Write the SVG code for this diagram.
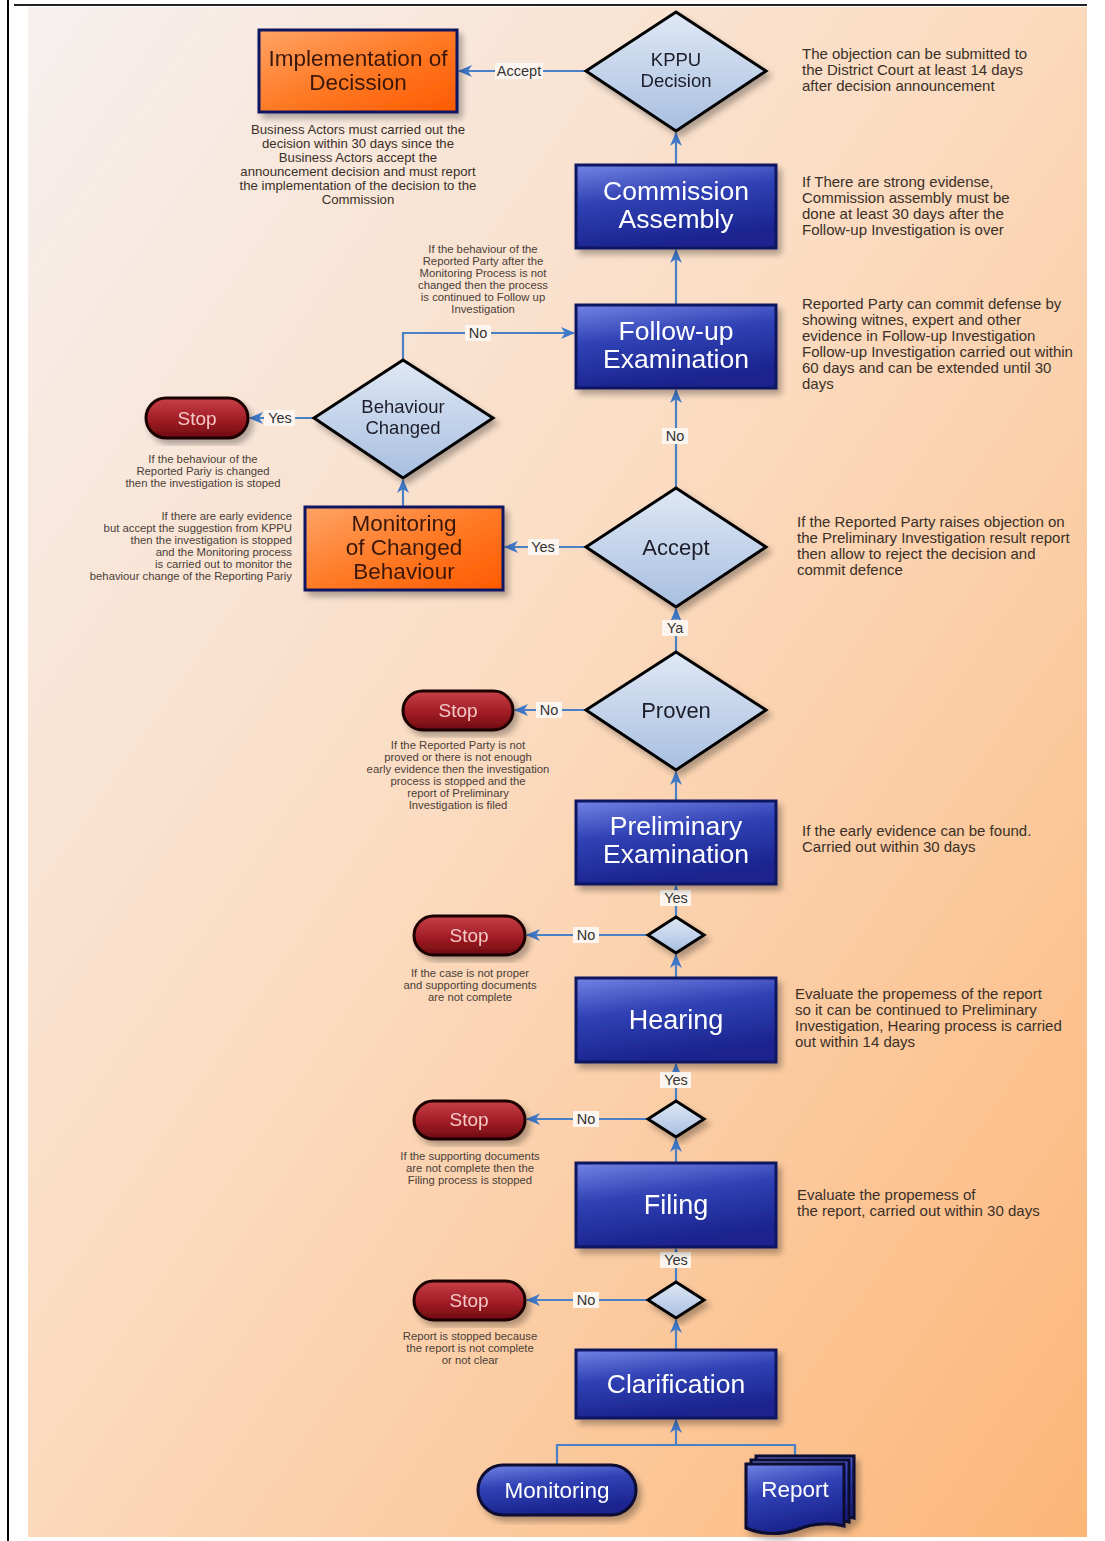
<svg xmlns="http://www.w3.org/2000/svg" width="1105" height="1541" viewBox="0 0 1105 1541">
  <defs>
    <linearGradient id="bg" x1="0" y1="0" x2="1" y2="1">
      <stop offset="0" stop-color="#f6f0ef"/>
      <stop offset="0.45" stop-color="#fbdcc2"/>
      <stop offset="1" stop-color="#fcb678"/>
    </linearGradient>
    <linearGradient id="blueFill" x1="0" y1="0" x2="0.3" y2="1">
      <stop offset="0" stop-color="#7283e4"/>
      <stop offset="0.45" stop-color="#3041b4"/>
      <stop offset="1" stop-color="#1a238e"/>
    </linearGradient>
    <linearGradient id="orangeFill" x1="0" y1="0" x2="1" y2="1">
      <stop offset="0" stop-color="#ffa466"/>
      <stop offset="0.5" stop-color="#ff7a26"/>
      <stop offset="1" stop-color="#ff5a00"/>
    </linearGradient>
    <linearGradient id="diaFill" x1="0" y1="0" x2="0" y2="1">
      <stop offset="0" stop-color="#dfe8f5"/>
      <stop offset="1" stop-color="#a8bfe0"/>
    </linearGradient>
    <linearGradient id="stopFill" x1="0" y1="0" x2="0" y2="1">
      <stop offset="0" stop-color="#c84048"/>
      <stop offset="0.6" stop-color="#9c1a22"/>
      <stop offset="1" stop-color="#6e0c12"/>
    </linearGradient>
    <filter id="shadow" x="-10%" y="-10%" width="130%" height="130%">
      <feGaussianBlur in="SourceAlpha" stdDeviation="3"/>
      <feOffset dx="4" dy="5" result="b"/>
      <feComponentTransfer><feFuncA type="linear" slope="0.3"/></feComponentTransfer>
      <feMerge><feMergeNode/><feMergeNode in="SourceGraphic"/></feMerge>
    </filter>
    <marker id="arrow" markerWidth="14" markerHeight="12" refX="13" refY="6" orient="auto" markerUnits="userSpaceOnUse">
      <path d="M0,0 L14,6 L0,12 L4,6 Z" fill="#3f78c8"/>
    </marker>
  </defs>
  <style>
    .box { stroke: #0e1460; stroke-width: 3; }
    .blue { fill: url(#blueFill); }
    .orange { fill: url(#orangeFill); }
    .dia { fill: url(#diaFill); stroke: #000; stroke-width: 3; }
    .stop { fill: url(#stopFill); stroke: #1a0000; stroke-width: 3; }
    .pill { fill: url(#blueFill); stroke: #0a0a30; stroke-width: 3; }
    .wt { font-family: "Liberation Sans", Arial, sans-serif; fill: #ffffff; text-anchor: middle; font-size: 26.5px; }
    .wt.big { font-size: 27px; }
    .wt.sm { font-size: 22.5px; }
    .ot { font-family: "Liberation Sans", Arial, sans-serif; fill: #3a1808; text-anchor: middle; font-size: 22.5px; }
    .dt { font-family: "Liberation Sans", Arial, sans-serif; fill: #1e1e2a; text-anchor: middle; font-size: 18.5px; }
    .dt.big { font-size: 22px; }
    .st { font-family: "Liberation Sans", Arial, sans-serif; fill: #f4c8c8; text-anchor: middle; font-size: 19px; }
    .note { font-family: "Liberation Sans", Arial, sans-serif; fill: #3a3028; font-size: 15px; }
    .small { font-family: "Liberation Sans", Arial, sans-serif; fill: #4a4038; font-size: 11.3px; text-anchor: middle; }
    .smallr { font-family: "Liberation Sans", Arial, sans-serif; fill: #4a4038; font-size: 11.3px; text-anchor: end; }
    .mid { font-family: "Liberation Sans", Arial, sans-serif; fill: #3a3028; font-size: 13.2px; text-anchor: middle; }
    .line { fill: none; stroke: #4a80c6; stroke-width: 2.2; }
    .lbl { font-family: "Liberation Sans", Arial, sans-serif; fill: #333; font-size: 14.5px; text-anchor: middle; }
    .lblbg { fill: #fdf6f0; }
  </style>

  <!-- page frame and background -->
  <rect x="0" y="0" width="1105" height="1541" fill="#ffffff"/>
  <rect x="28" y="7" width="1059" height="1530" fill="url(#bg)"/>
  <line x1="8" y1="0" x2="8" y2="1541" stroke="#000" stroke-width="2"/>
  <line x1="14" y1="5" x2="1087" y2="5" stroke="#222" stroke-width="2"/>

  <!-- connectors -->
  <g id="connectors">
    <line class="line" x1="586" y1="71" x2="459" y2="71" marker-end="url(#arrow)"/>
    <line class="line" x1="676" y1="165" x2="676" y2="133" marker-end="url(#arrow)"/>
    <line class="line" x1="676" y1="305" x2="676" y2="250" marker-end="url(#arrow)"/>
    <polyline class="line" points="403,360 403,333 574,333" marker-end="url(#arrow)"/>
    <line class="line" x1="676" y1="488" x2="676" y2="390" marker-end="url(#arrow)"/>
    <line class="line" x1="314" y1="418" x2="250" y2="418" marker-end="url(#arrow)"/>
    <line class="line" x1="403" y1="507" x2="403" y2="480" marker-end="url(#arrow)"/>
    <line class="line" x1="586" y1="547" x2="505" y2="547" marker-end="url(#arrow)"/>
    <line class="line" x1="676" y1="652" x2="676" y2="609" marker-end="url(#arrow)"/>
    <line class="line" x1="586" y1="710" x2="515" y2="710" marker-end="url(#arrow)"/>
    <line class="line" x1="676" y1="801" x2="676" y2="772" marker-end="url(#arrow)"/>
    <line class="line" x1="676" y1="917" x2="676" y2="886" marker-end="url(#arrow)"/>
    <line class="line" x1="648" y1="935" x2="527" y2="935" marker-end="url(#arrow)"/>
    <line class="line" x1="676" y1="978" x2="676" y2="955" marker-end="url(#arrow)"/>
    <line class="line" x1="676" y1="1101" x2="676" y2="1064" marker-end="url(#arrow)"/>
    <line class="line" x1="648" y1="1119" x2="527" y2="1119" marker-end="url(#arrow)"/>
    <line class="line" x1="676" y1="1163" x2="676" y2="1139" marker-end="url(#arrow)"/>
    <line class="line" x1="676" y1="1282" x2="676" y2="1249" marker-end="url(#arrow)"/>
    <line class="line" x1="648" y1="1300" x2="527" y2="1300" marker-end="url(#arrow)"/>
    <line class="line" x1="676" y1="1350" x2="676" y2="1320" marker-end="url(#arrow)"/>
    <polyline class="line" points="557,1465 557,1445 795,1445 795,1456"/>
    <line class="line" x1="676" y1="1445" x2="676" y2="1420" marker-end="url(#arrow)"/>

    <!-- connector labels -->
    <rect class="lblbg" x="495" y="63" width="48" height="16"/>
    <text class="lbl" x="519" y="76">Accept</text>
    <rect class="lblbg" x="465" y="325" width="26" height="16"/>
    <text class="lbl" x="478" y="338">No</text>
    <rect class="lblbg" x="662" y="428" width="26" height="16"/>
    <text class="lbl" x="675" y="441">No</text>
    <rect class="lblbg" x="264" y="410" width="31" height="16"/>
    <text class="lbl" x="280" y="423">Yes</text>
    <rect class="lblbg" x="528" y="539" width="31" height="16"/>
    <text class="lbl" x="543" y="552">Yes</text>
    <rect class="lblbg" x="662" y="620" width="26" height="16"/>
    <text class="lbl" x="675" y="633">Ya</text>
    <rect class="lblbg" x="536" y="702" width="26" height="16"/>
    <text class="lbl" x="549" y="715">No</text>
    <rect class="lblbg" x="660" y="890" width="31" height="16"/>
    <text class="lbl" x="676" y="903">Yes</text>
    <rect class="lblbg" x="573" y="927" width="26" height="16"/>
    <text class="lbl" x="586" y="940">No</text>
    <rect class="lblbg" x="660" y="1072" width="31" height="16"/>
    <text class="lbl" x="676" y="1085">Yes</text>
    <rect class="lblbg" x="573" y="1111" width="26" height="16"/>
    <text class="lbl" x="586" y="1124">No</text>
    <rect class="lblbg" x="660" y="1252" width="31" height="16"/>
    <text class="lbl" x="676" y="1265">Yes</text>
    <rect class="lblbg" x="573" y="1292" width="26" height="16"/>
    <text class="lbl" x="586" y="1305">No</text>
  </g>

  <!-- decision: KPPU -->
  <g id="kppu-decision" filter="url(#shadow)">
    <polygon class="dia" points="676,12 766,71 676,131 586,71"/>
    <text class="dt" x="676" y="66">KPPU</text>
    <text class="dt" x="676" y="87">Decision</text>
  </g>

  <g id="implementation" filter="url(#shadow)">
    <rect class="box orange" x="259" y="30" width="198" height="82"/>
    <text class="ot" x="358" y="66">Implementation of</text>
    <text class="ot" x="358" y="90">Decission</text>
  </g>

  <g id="commission-assembly" filter="url(#shadow)">
    <rect class="box blue" x="576" y="165" width="200" height="83"/>
    <text class="wt" x="676" y="200">Commission</text>
    <text class="wt" x="676" y="228">Assembly</text>
  </g>

  <g id="follow-up" filter="url(#shadow)">
    <rect class="box blue" x="576" y="305" width="200" height="83"/>
    <text class="wt" x="676" y="340">Follow-up</text>
    <text class="wt" x="676" y="368">Examination</text>
  </g>

  <g id="behaviour-changed" filter="url(#shadow)">
    <polygon class="dia" points="403,360 493,418 403,478 314,418"/>
    <text class="dt" x="403" y="413">Behaviour</text>
    <text class="dt" x="403" y="434">Changed</text>
  </g>

  <g id="stop-behaviour" filter="url(#shadow)">
    <rect class="stop" x="146" y="398" width="102" height="40" rx="20"/>
    <text class="st" x="197" y="425">Stop</text>
  </g>

  <g id="monitoring-changed" filter="url(#shadow)">
    <rect class="box orange" x="305" y="507" width="198" height="83"/>
    <text class="ot" x="404" y="531">Monitoring</text>
    <text class="ot" x="404" y="555">of Changed</text>
    <text class="ot" x="404" y="579">Behaviour</text>
  </g>

  <g id="accept" filter="url(#shadow)">
    <polygon class="dia" points="676,488 766,547 676,607 586,547"/>
    <text class="dt big" x="676" y="555">Accept</text>
  </g>

  <g id="proven" filter="url(#shadow)">
    <polygon class="dia" points="676,652 766,710 676,770 586,710"/>
    <text class="dt big" x="676" y="718">Proven</text>
  </g>

  <g id="stop-proven" filter="url(#shadow)">
    <rect class="stop" x="403" y="691" width="110" height="39" rx="19.5"/>
    <text class="st" x="458" y="717">Stop</text>
  </g>

  <g id="preliminary" filter="url(#shadow)">
    <rect class="box blue" x="576" y="801" width="200" height="83"/>
    <text class="wt" x="676" y="835">Preliminary</text>
    <text class="wt" x="676" y="863">Examination</text>
  </g>

  <g id="check-hearing" filter="url(#shadow)">
    <polygon class="dia" points="676,917 704,935 676,953 648,935"/>
  </g>
  <g id="stop-hearing" filter="url(#shadow)">
    <rect class="stop" x="414" y="916" width="111" height="39" rx="19.5"/>
    <text class="st" x="469" y="942">Stop</text>
  </g>

  <g id="hearing" filter="url(#shadow)">
    <rect class="box blue" x="576" y="978" width="200" height="84"/>
    <text class="wt big" x="676" y="1029">Hearing</text>
  </g>

  <g id="check-filing" filter="url(#shadow)">
    <polygon class="dia" points="676,1101 704,1119 676,1137 648,1119"/>
  </g>
  <g id="stop-filing" filter="url(#shadow)">
    <rect class="stop" x="414" y="1101" width="111" height="38" rx="19"/>
    <text class="st" x="469" y="1126">Stop</text>
  </g>

  <g id="filing" filter="url(#shadow)">
    <rect class="box blue" x="576" y="1163" width="200" height="84"/>
    <text class="wt big" x="676" y="1214">Filing</text>
  </g>

  <g id="check-clarification" filter="url(#shadow)">
    <polygon class="dia" points="676,1282 704,1300 676,1318 648,1300"/>
  </g>
  <g id="stop-clarification" filter="url(#shadow)">
    <rect class="stop" x="414" y="1281" width="111" height="39" rx="19.5"/>
    <text class="st" x="469" y="1307">Stop</text>
  </g>

  <g id="clarification" filter="url(#shadow)">
    <rect class="box blue" x="576" y="1350" width="200" height="68"/>
    <text class="wt" x="676" y="1393">Clarification</text>
  </g>

  <g id="monitoring" filter="url(#shadow)">
    <rect class="pill" x="478" y="1465" width="158" height="50" rx="25"/>
    <text class="wt sm" x="557" y="1498">Monitoring</text>
  </g>

  <g id="report" filter="url(#shadow)">
    <path class="pill" d="M756,1456 H854 V1518 Q830,1512 806,1522 Q780,1530 756,1520 Z"/>
    <path class="pill" d="M751,1460 H849 V1522 Q825,1516 801,1526 Q775,1534 751,1524 Z"/>
    <path class="pill" d="M746,1464 H844 V1526 Q820,1520 796,1530 Q770,1538 746,1528 Z"/>
    <text class="wt sm" x="795" y="1497">Report</text>
  </g>

  <!-- notes on the right -->
  <g id="notes-right" class="note">
    <text x="802" y="59">The objection can be submitted to</text>
    <text x="802" y="75">the District Court at least 14 days</text>
    <text x="802" y="91">after decision announcement</text>

    <text x="802" y="187">If There are strong evidense,</text>
    <text x="802" y="203">Commission assembly must be</text>
    <text x="802" y="219">done at least 30 days after the</text>
    <text x="802" y="235">Follow-up Investigation is over</text>

    <text x="802" y="309">Reported Party can commit defense by</text>
    <text x="802" y="325">showing witnes, expert and other</text>
    <text x="802" y="341">evidence in Follow-up Investigation</text>
    <text x="802" y="357">Follow-up Investigation carried out within</text>
    <text x="802" y="373">60 days and can be extended until 30</text>
    <text x="802" y="389">days</text>

    <text x="797" y="527">If the Reported Party raises objection on</text>
    <text x="797" y="543">the Preliminary Investigation result report</text>
    <text x="797" y="559">then allow to reject the decision and</text>
    <text x="797" y="575">commit defence</text>

    <text x="802" y="836">If the early evidence can be found.</text>
    <text x="802" y="852">Carried out within 30 days</text>

    <text x="795" y="999">Evaluate the propemess of the report</text>
    <text x="795" y="1015">so it can be continued to Preliminary</text>
    <text x="795" y="1031">Investigation, Hearing process is carried</text>
    <text x="795" y="1047">out within 14 days</text>

    <text x="797" y="1200">Evaluate the propemess of</text>
    <text x="797" y="1216">the report, carried out within 30 days</text>
  </g>

  <!-- notes on the left -->
  <g id="notes-left">
    <text class="mid" x="358" y="134">Business Actors must carried out the</text>
    <text class="mid" x="358" y="148">decision within 30 days since the</text>
    <text class="mid" x="358" y="162">Business Actors accept the</text>
    <text class="mid" x="358" y="176">announcement decision and must report</text>
    <text class="mid" x="358" y="190">the implementation of the decision to the</text>
    <text class="mid" x="358" y="204">Commission</text>

    <text class="small" x="483" y="253">If the behaviour of the</text>
    <text class="small" x="483" y="265">Reported Party after the</text>
    <text class="small" x="483" y="277">Monitoring Process is not</text>
    <text class="small" x="483" y="289">changed then the process</text>
    <text class="small" x="483" y="301">is continued to Follow up</text>
    <text class="small" x="483" y="313">Investigation</text>

    <text class="small" x="203" y="463">If the behaviour of the</text>
    <text class="small" x="203" y="475">Reported Pariy is changed</text>
    <text class="small" x="203" y="487">then the investigation is stoped</text>

    <text class="smallr" x="292" y="520">If there are early evidence</text>
    <text class="smallr" x="292" y="532">but accept the suggestion from KPPU</text>
    <text class="smallr" x="292" y="544">then the investigation is stopped</text>
    <text class="smallr" x="292" y="556">and the Monitoring process</text>
    <text class="smallr" x="292" y="568">is carried out to monitor the</text>
    <text class="smallr" x="292" y="580">behaviour change of the Reporting Pariy</text>

    <text class="small" x="458" y="749">If the Reported Party is not</text>
    <text class="small" x="458" y="761">proved or there is not enough</text>
    <text class="small" x="458" y="773">early evidence then the investigation</text>
    <text class="small" x="458" y="785">process is stopped and the</text>
    <text class="small" x="458" y="797">report of Preliminary</text>
    <text class="small" x="458" y="809">Investigation is filed</text>

    <text class="small" x="470" y="977">If the case is not proper</text>
    <text class="small" x="470" y="989">and supporting documents</text>
    <text class="small" x="470" y="1001">are not complete</text>

    <text class="small" x="470" y="1160">If the supporting documents</text>
    <text class="small" x="470" y="1172">are not complete then the</text>
    <text class="small" x="470" y="1184">Filing process is stopped</text>

    <text class="small" x="470" y="1340">Report is stopped because</text>
    <text class="small" x="470" y="1352">the report is not complete</text>
    <text class="small" x="470" y="1364">or not clear</text>
  </g>
</svg>
